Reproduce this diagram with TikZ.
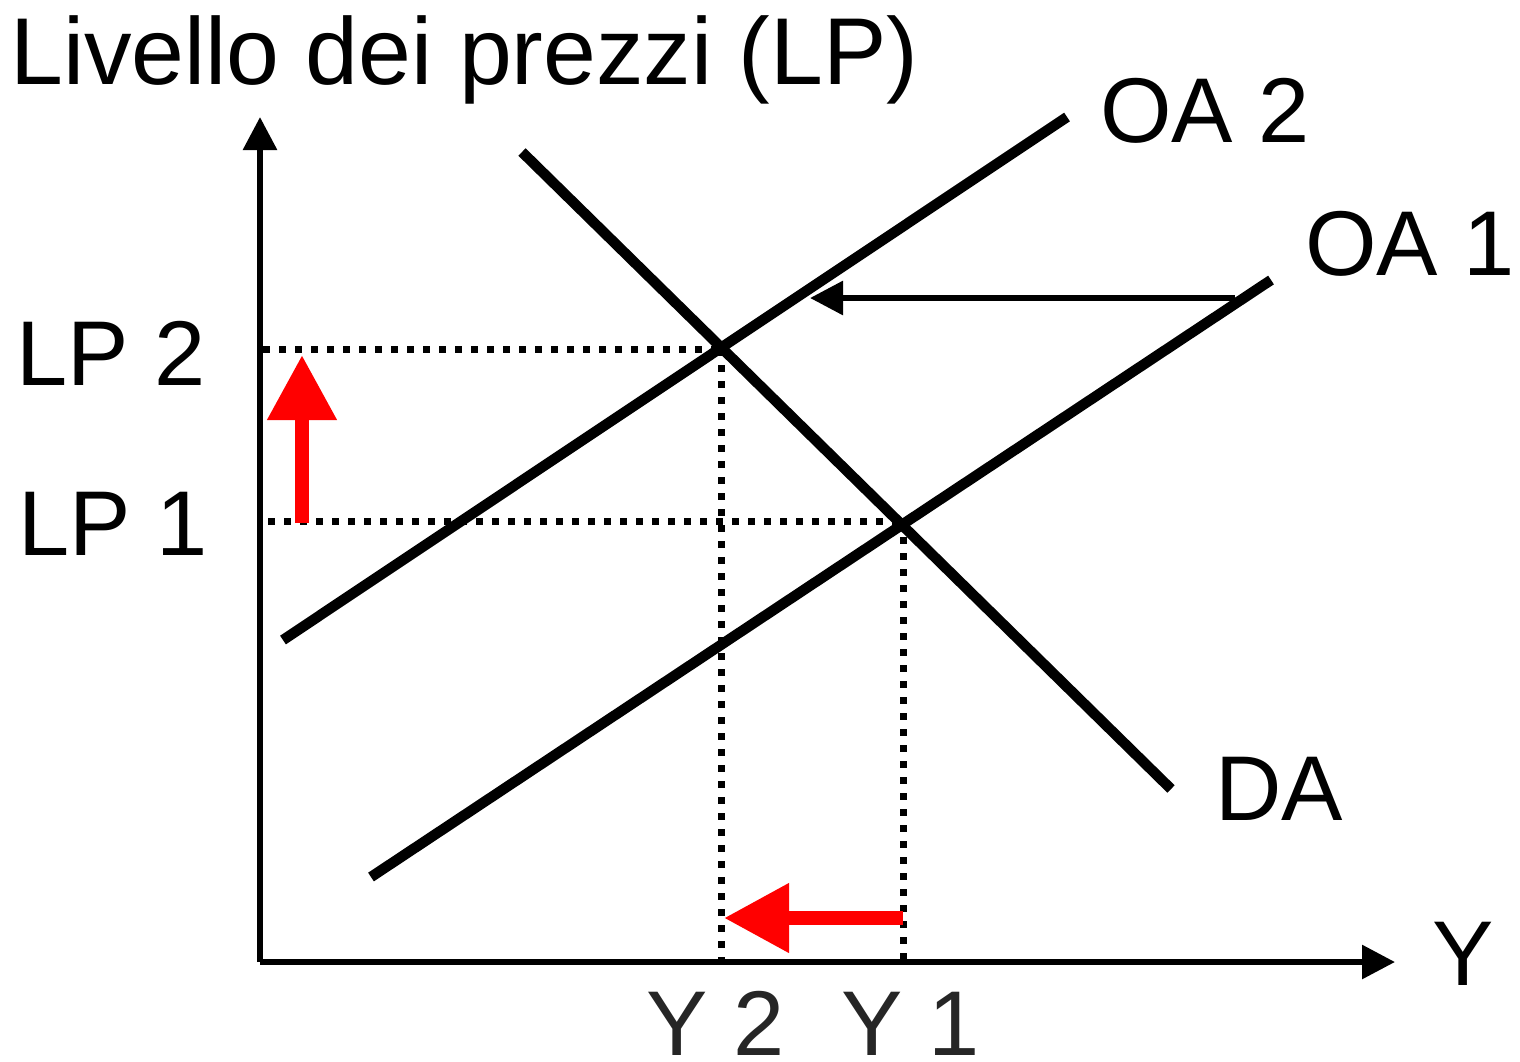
\documentclass[tikz,border=0pt]{standalone}
\usepackage{fontspec}
\setmainfont{Liberation Sans}
\usetikzlibrary{arrows.meta}
\definecolor{ticklabel}{HTML}{262626}

\begin{document}
\begin{tikzpicture}[
  x=0.5pt, y=-0.5pt,
  axis/.style={line width=3pt, -{Triangle[length=16.5pt, width=16.5pt]}},
  curve/.style={line width=5.2pt},
  guide/.style={line width=3.5pt, dash pattern=on 3.5pt off 4.5pt},
  supplyshift/.style={line width=3pt, -{Triangle[length=16.5pt, width=16.5pt]}},
  redarr/.style={line width=7pt, red, -{Triangle[length=32.5pt, width=33pt]}},
  lab/.style={inner sep=0pt, anchor=base west, font=\fontsize{46}{50}\selectfont},
  every node/.style={inner sep=0pt}
]
  \useasboundingbox (0,0) rectangle (1520,1061);
  % axes
  \coordinate (O) at (260,962);
  \coordinate (ytop) at (260,117);
  \coordinate (xend) at (1395,962);
  \draw[axis] (O) -- (ytop);
  \draw[axis] (O) -- (xend);
  % curves
  \coordinate (oa2a) at (283,640);
  \coordinate (oa2b) at (1067,117);
  \coordinate (oa1a) at (371,877);
  \coordinate (oa1b) at (1271,280);
  \coordinate (daa) at (522,152);
  \coordinate (dab) at (1171,789);
  \draw[curve] (oa2a) -- (oa2b);
  \draw[curve] (oa1a) -- (oa1b);
  \draw[curve] (daa) -- (dab);
  % equilibria and guides
  \coordinate (e2) at (721,349);
  \coordinate (e1) at (903,521);
  \coordinate (lp2) at (263,349);
  \coordinate (lp1) at (268,521);
  \coordinate (y2) at (721,962);
  \coordinate (y1) at (903,962);
  \draw[guide] (lp2) -- (e2);
  \draw[guide] (lp1) -- (e1);
  \draw[guide] (e2) -- (y2);
  \draw[guide] (e1) -- (y1);
  % shift of supply
  \coordinate (sfrom) at (1235,298);
  \coordinate (sto) at (810,298);
  \draw[supplyshift] (sfrom) -- (sto);
  % red arrows
  \coordinate (upfrom) at (302,523);
  \coordinate (upto) at (302,355);
  \coordinate (lfrom) at (903,918);
  \coordinate (lto) at (724,918);
  \draw[redarr] (upfrom) -- (upto);
  \draw[redarr] (lfrom) -- (lto);
  % labels
  \node[lab, font=\fontsize{47.5}{52}\selectfont] (title) at (10,84) {Livello dei prezzi (LP)};
  \node[lab] (oa2lab) at (1100,142) {OA 2};
  \node[lab] (oa1lab) at (1305,275) {OA 1};
  \node[lab] (lp2lab) at (16,385) {LP 2};
  \node[lab] (lp1lab) at (18,555) {LP 1};
  \node[lab] (dalab) at (1215,820) {DA};
  \node[lab] (ylab) at (1432,985) {Y};
  \node[lab, text=ticklabel] (y2lab) at (646,1055) {Y 2};
  \node[lab, text=ticklabel] (y1lab) at (841,1055) {Y 1};
\end{tikzpicture}
\end{document}
